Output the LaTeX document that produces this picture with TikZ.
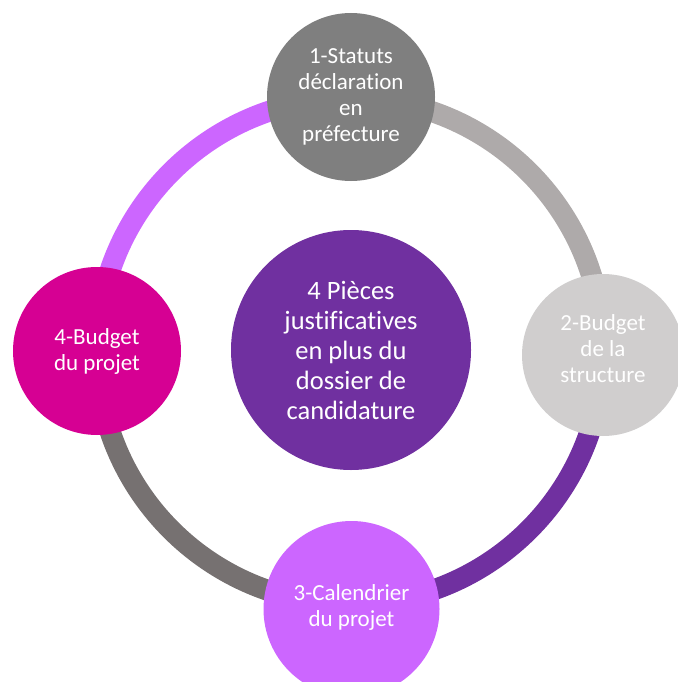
\documentclass[tikz,border=0pt]{standalone}
\usepackage{fontspec}
\setmainfont{Carlito}[RawFeature={-liga;-clig;-calt;-dlig}]
\definecolor{ringA}{HTML}{CC66FF}
\definecolor{ringB}{HTML}{AEAAAA}
\definecolor{ringC}{HTML}{7030A0}
\definecolor{ringD}{HTML}{767171}
\definecolor{cTop}{HTML}{7F7F7F}
\definecolor{cRight}{HTML}{D0CECE}
\definecolor{cBottom}{HTML}{CC66FF}
\definecolor{cLeft}{HTML}{D60093}
\definecolor{cCenter}{HTML}{7030A0}
\tikzset{
  ringarc/.style={line width=21pt, line cap=butt},
  bubble/.style={circle, draw=none, inner sep=0pt, text=white, align=center,
    font=\fontsize{23}{26}\selectfont},
  bigbubble/.style={bubble, font=\fontsize{26.5}{30}\selectfont}
}
\begin{document}
\begin{tikzpicture}[x=1pt,y=1pt]
\useasboundingbox (0,0) rectangle (677,-682);
\coordinate (rc) at (350,-351);
% ring segments
\draw[ringarc, ringB] (rc) ++(0:253) arc (0:90:253);
\draw[ringarc, ringA] (rc) ++(90:253) arc (90:180:253);
\draw[ringarc, ringD] (rc) ++(180:253) arc (180:270:253);
\draw[ringarc, ringC] (rc) ++(270:253) arc (270:360:253);
% circles
\node[bigbubble, fill=cCenter, minimum size=240pt] (center) at (351,-350)
  {4 Pièces\\justificatives\\en plus du\\dossier de\\candidature};
\node[bubble, fill=cTop, minimum size=168pt] (top) at (351,-97)
  {1-Statuts\\déclaration\\en\\préfecture};
\node[bubble, fill=cRight, minimum size=162pt] (right) at (603,-355)
  {2-Budget\\de la\\structure\\[-14pt]};
\node[bubble, fill=cBottom, minimum size=176pt] (bottom) at (351.5,-609)
  {3-Calendrier\\du projet\\[-20pt]};
\node[bubble, fill=cLeft, minimum size=168pt] (left) at (97,-351)
  {4-Budget\\du projet};
\end{tikzpicture}
\end{document}
